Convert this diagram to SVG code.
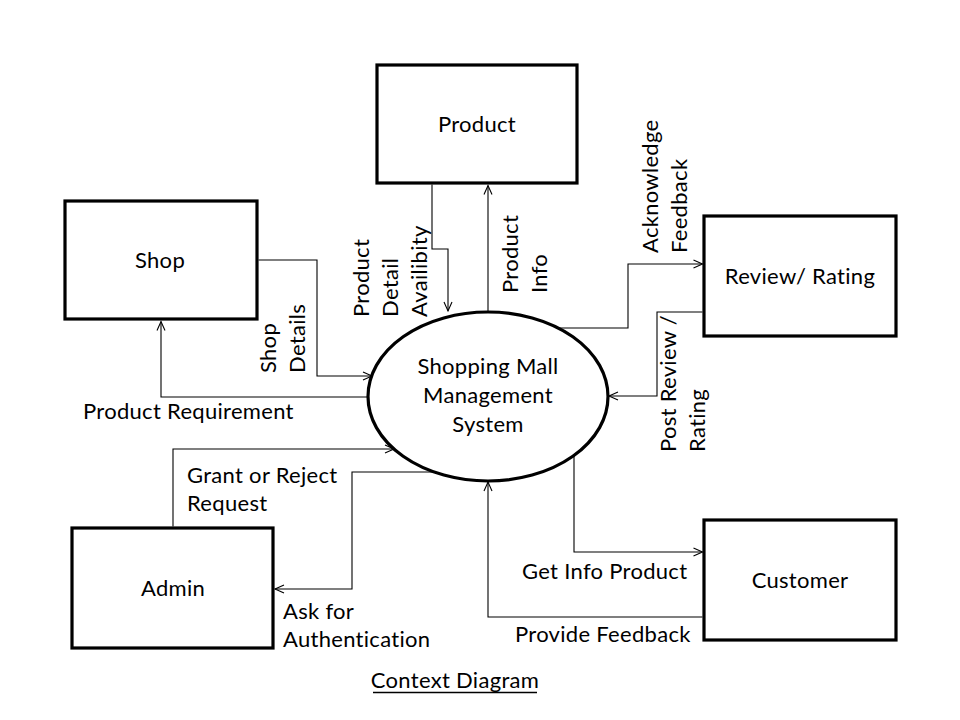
<svg xmlns="http://www.w3.org/2000/svg" width="960" height="720" viewBox="0 0 960 720">
<style>
.box{fill:#fff;stroke:#000;stroke-width:3.2}
.t{font-family:Lato,"Liberation Sans",sans-serif;font-size:22px;letter-spacing:0.3px;fill:#000}
.c{text-anchor:middle}
.ln{fill:none;stroke:#000;stroke-width:1.1;marker-end:url(#ah)}
</style>
<defs>
<marker id="ah" markerUnits="userSpaceOnUse" markerWidth="12" markerHeight="12" viewBox="0 0 12 12" refX="10" refY="5" orient="auto">
<path d="M1,1 L10,5 L1,9" fill="none" stroke="#000" stroke-width="1.1"/>
</marker>
</defs>
<rect width="960" height="720" fill="#fff"/>
<g id="connectors">
<path class="ln" d="M432,184.5 V249 H448 V311"/>
<path class="ln" d="M488,312 V185.5"/>
<path class="ln" d="M258.5,260 H317 V376 H372"/>
<path class="ln" d="M368,397 H161 V321.5"/>
<path class="ln" d="M173,526.5 V449 H394"/>
<path class="ln" d="M435,472 H352 V589 H275"/>
<path class="ln" d="M556,328 H628 V264 H702.5"/>
<path class="ln" d="M702.5,312 H657 V396 H609"/>
<path class="ln" d="M574,456 V552 H702.5"/>
<path class="ln" d="M702.5,617 H488 V482"/>
<text class="t" transform="translate(276,373) rotate(-90)">Shop</text>
<text class="t" transform="translate(305,373) rotate(-90)">Details</text>
<text class="t" transform="translate(369,317) rotate(-90)">Product</text>
<text class="t" transform="translate(398,317) rotate(-90)">Detail</text>
<text class="t" transform="translate(427,317) rotate(-90)">Availibity</text>
<text class="t" transform="translate(518,293) rotate(-90)">Product</text>
<text class="t" transform="translate(547,293) rotate(-90)">Info</text>
<text class="t" transform="translate(658,253) rotate(-90)">Acknowledge</text>
<text class="t" transform="translate(687,253) rotate(-90)">Feedback</text>
<text class="t" transform="translate(676,452) rotate(-90)">Post Review /</text>
<text class="t" transform="translate(705,452) rotate(-90)">Rating</text>
<text class="t" x="83" y="419">Product Requirement</text>
<text class="t" x="187" y="483">Grant or Reject</text>
<text class="t" x="187" y="511">Request</text>
<text class="t" x="283" y="619">Ask for</text>
<text class="t" x="283" y="647">Authentication</text>
<text class="t" x="522" y="579">Get Info Product</text>
<text class="t" x="515" y="642">Provide Feedback</text>
</g>
<g id="product">
<rect class="box" x="377" y="65" width="200" height="118"/>
<text class="t c" x="477" y="132">Product</text>
</g>
<g id="shop">
<rect class="box" x="65" y="201" width="192" height="118"/>
<text class="t c" x="160" y="268">Shop</text>
</g>
<g id="review">
<rect class="box" x="704" y="216" width="192" height="120"/>
<text class="t c" x="800" y="284">Review/ Rating</text>
</g>
<g id="admin">
<rect class="box" x="72" y="528" width="201" height="120"/>
<text class="t c" x="173" y="596">Admin</text>
</g>
<g id="customer">
<rect class="box" x="704" y="520" width="192" height="120"/>
<text class="t c" x="800" y="588">Customer</text>
</g>
<g id="system">
<ellipse cx="488" cy="396.5" rx="120" ry="84.5" fill="none" stroke="#000" stroke-width="3.2"/>
<text class="t c" x="488" y="374">Shopping Mall</text>
<text class="t c" x="488" y="403">Management</text>
<text class="t c" x="488" y="432">System</text>
</g>
<g id="title">
<text class="t c" x="455" y="688">Context Diagram</text>
<line x1="373" y1="692.5" x2="537" y2="692.5" stroke="#000" stroke-width="1.5"/>
</g>
</svg>
